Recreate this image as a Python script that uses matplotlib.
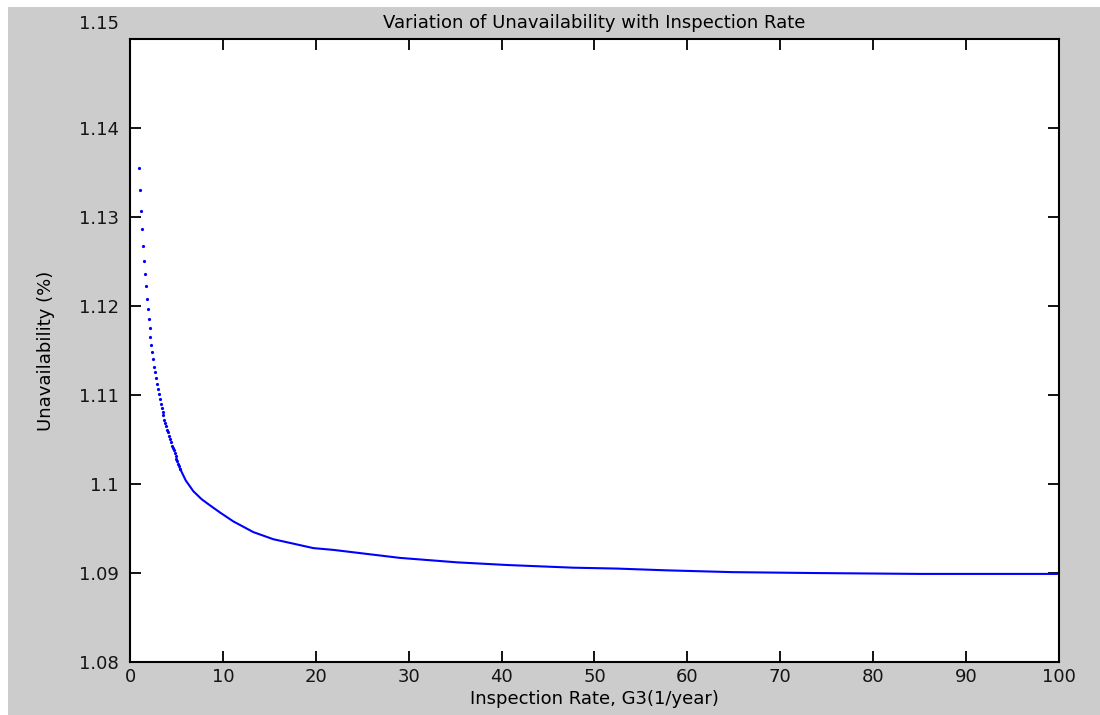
import matplotlib.pyplot as plt
from matplotlib.patches import Rectangle
from matplotlib.transforms import ScaledTranslation

# separate dots at the start of the curve (step 0.1)
x_dots = [1.0, 1.1, 1.2, 1.3, 1.4, 1.5, 1.6, 1.7, 1.8, 1.9,
          2.0, 2.1, 2.2, 2.3, 2.4, 2.5, 2.6, 2.7, 2.8, 2.9,
          3.0, 3.1, 3.2, 3.3, 3.4, 3.5, 3.6, 3.7, 3.8, 3.9,
          4.0, 4.1, 4.2, 4.3, 4.4, 4.5, 4.6, 4.7, 4.8, 4.9,
          5.0, 5.1, 5.2, 5.3, 5.4]
y_dots = [1.1355, 1.1330, 1.1307, 1.1287, 1.1268, 1.1251, 1.1236, 1.1222, 1.1208, 1.1197,
          1.1185, 1.1175, 1.1165, 1.1156, 1.1148, 1.1140, 1.1132, 1.1126, 1.1119, 1.1112,
          1.1107, 1.1101, 1.1096, 1.1090, 1.1085, 1.1081, 1.1077, 1.1072, 1.1069, 1.1065,
          1.1061, 1.1058, 1.1054, 1.1051, 1.1047, 1.1043, 1.1041, 1.1038, 1.1035, 1.1031,
          1.1028, 1.1026, 1.1023, 1.1020, 1.1017]

# dense part where the dots merge into a line
x_line = [5.4, 6.0, 6.81, 7.7, 8.61, 9.69, 11.12, 13.27, 15.42, 17.58, 19.73, 21.88,
          29.06, 35.2, 40.6, 47.7, 52.4, 57.8, 64.8, 73.5, 85.0, 100.0]
y_line = [1.1017, 1.1004, 1.0992, 1.0983, 1.0976, 1.0968, 1.0958, 1.0946, 1.0938, 1.0933,
          1.0928, 1.0926, 1.0917, 1.0912, 1.0909, 1.0906, 1.0905, 1.0903, 1.0901, 1.0900,
          1.0899, 1.0899]

xticks = [0, 10, 20, 30, 40, 50, 60, 70, 80, 90, 100]
yticks = [1.08, 1.09, 1.10, 1.11, 1.12, 1.13, 1.14, 1.15]
ytick_labels = ['1.08', '1.09', '1.1', '1.11', '1.12', '1.13', '1.14', '1.15']

plt.rcParams['font.family'] = ['DejaVu Sans']

fig = plt.figure(figsize=(11, 7.15), dpi=100, facecolor='white')
fig.patches.append(Rectangle((8 / 1100, 0), 1, 708 / 715, transform=fig.transFigure,
                             facecolor='#cccccc', edgecolor='none', zorder=-1))
ax = fig.add_axes([0.1182, 0.0741, 0.8445, 0.8713])

ax.plot(x_line, y_line, color='#0000ff', lw=1.5)
ax.plot(x_dots, y_dots, ls='none', marker='o', ms=2.3, mew=0, color='#0000ff')

ax.set_xlim(0, 100)
ax.set_ylim(1.08, 1.15)
ax.set_xticks(xticks)
ax.set_yticks(yticks)
ax.set_yticklabels(ytick_labels)
ax.tick_params(direction='in', length=8, width=1.3, top=True, right=True,
               labelsize=13, labelcolor='#141414')
ax.tick_params(axis='x', pad=4)
ax.tick_params(axis='y', pad=8)
for s in ax.spines.values():
    s.set_linewidth(1.5)

# top y label sits higher than its tick in the original
top_lab = ax.yaxis.get_major_ticks()[-1].label1
top_lab.set_transform(top_lab.get_transform() + ScaledTranslation(0, 0.17, fig.dpi_scale_trans))

ax.set_title('Variation of Unavailability with Inspection Rate', fontsize=13, pad=8)
ax.set_xlabel('Inspection Rate, G3(1/year)', fontsize=13, labelpad=3)
ax.set_ylabel('Unavailability (%)', fontsize=13, labelpad=17)

fig.savefig('out.png', dpi=100, facecolor=fig.get_facecolor())
